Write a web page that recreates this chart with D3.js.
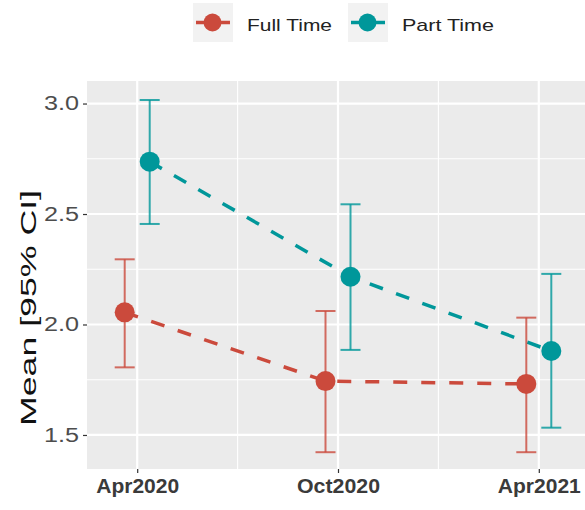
<!DOCTYPE html>
<html>
<head>
<meta charset="utf-8">
<script src="https://cdn.jsdelivr.net/npm/d3@7"></script>
<style>
  html, body { margin: 0; padding: 0; background: #fff; }
  svg { display: block; font-family: "Liberation Sans", Arial, sans-serif; }
</style>
</head>
<body>
<svg id="chart" width="585" height="510"></svg>
<script>
// ---- data ----
const waves = ["Apr2020", "Oct2020", "Apr2021"];
const groups = ["Full Time", "Part Time"];
const fullMean  = [2.055, 1.744, 1.731];
const fullLower = [1.806, 1.422, 1.422];
const fullUpper = [2.295, 2.061, 2.031];
const partMean  = [2.737, 2.216, 1.880];
const partLower = [2.455, 1.885, 1.533];
const partUpper = [3.016, 2.544, 2.229];
const yTicks = [1.5, 2.0, 2.5, 3.0];
const colors = ["#CB4A3C", "#00979A"];

const series = [
  { name: groups[0], mean: fullMean, lo: fullLower, hi: fullUpper, color: colors[0] },
  { name: groups[1], mean: partMean, lo: partLower, hi: partUpper, color: colors[1] }
];

const svg = d3.select("#chart");
const panel = { left: 87, right: 589, top: 81, bottom: 469 };

const x = d3.scalePoint().domain(waves).range([panel.left, panel.right]).padding(0.25);
const dodge = d3.scalePoint().domain(groups).range([-12.5, 12.5]);
const y = d3.scaleLinear().domain([1.346, 3.102]).range([panel.bottom, panel.top]);

// panel background
svg.append("rect")
  .attr("x", panel.left).attr("y", panel.top)
  .attr("width", panel.right - panel.left).attr("height", panel.bottom - panel.top)
  .attr("fill", "#EBEBEB");

// minor grid
const yMinor = yTicks.slice(0, -1).map((v, i) => (v + yTicks[i + 1]) / 2);
const xMinor = waves.slice(0, -1).map((w, i) => (x(w) + x(waves[i + 1])) / 2);
svg.selectAll(".yminor").data(yMinor).join("line")
  .attr("x1", panel.left).attr("x2", panel.right)
  .attr("y1", d => y(d)).attr("y2", d => y(d))
  .attr("stroke", "#fff").attr("stroke-width", 1.1);
svg.selectAll(".xminor").data(xMinor).join("line")
  .attr("y1", panel.top).attr("y2", panel.bottom)
  .attr("x1", d => d).attr("x2", d => d)
  .attr("stroke", "#fff").attr("stroke-width", 1.1);
// major grid
svg.selectAll(".ymajor").data(yTicks).join("line")
  .attr("x1", panel.left).attr("x2", panel.right)
  .attr("y1", d => y(d)).attr("y2", d => y(d))
  .attr("stroke", "#fff").attr("stroke-width", 2.2);
svg.selectAll(".xmajor").data(waves).join("line")
  .attr("y1", panel.top).attr("y2", panel.bottom)
  .attr("x1", d => x(d)).attr("x2", d => x(d))
  .attr("stroke", "#fff").attr("stroke-width", 2.2);

// axes
const yAxis = svg.append("g").attr("transform", `translate(${panel.left},0)`)
  .call(d3.axisLeft(y).tickValues(yTicks).tickFormat(d3.format(".1f")).tickSize(4).tickPadding(4));
yAxis.select(".domain").remove();
yAxis.selectAll(".tick line").attr("stroke", "#333").attr("stroke-width", 1.2);
yAxis.selectAll(".tick text").attr("fill", "#4D4D4D").attr("font-size", 20)
  .attr("font-family", "Liberation Sans, Arial, sans-serif")
  .attr("textLength", 35).attr("lengthAdjust", "spacingAndGlyphs");

const xAxis = svg.append("g").attr("transform", `translate(0,${panel.bottom})`)
  .call(d3.axisBottom(x).tickSize(4).tickPadding(6));
xAxis.select(".domain").remove();
xAxis.selectAll(".tick line").attr("stroke", "#333").attr("stroke-width", 1.2);
xAxis.selectAll(".tick text").attr("fill", "#3A3A3A").attr("font-size", 20)
  .attr("font-weight", "bold").attr("font-family", "Liberation Sans, Arial, sans-serif")
  .attr("textLength", 83).attr("lengthAdjust", "spacingAndGlyphs");

// y title
svg.append("text")
  .attr("transform", "translate(36,308) rotate(-90)")
  .attr("text-anchor", "middle")
  .attr("font-size", 22).attr("fill", "#111")
  .attr("textLength", 236).attr("lengthAdjust", "spacingAndGlyphs")
  .text("Mean [95% CI]");

// lines
const line = d3.line().x((d, i) => x(waves[i]) + d.off).y(d => y(d.v));
series.forEach(s => {
  const off = dodge(s.name);
  svg.append("path")
    .datum(s.mean.map(v => ({ v, off })))
    .attr("d", line)
    .attr("fill", "none").attr("stroke", s.color)
    .attr("stroke-width", 3.5).attr("stroke-dasharray", "14,14");
});

// error bars
series.forEach(s => {
  const off = dodge(s.name);
  const g = svg.append("g").attr("stroke", s.color).attr("stroke-opacity", 0.8).attr("stroke-width", 2);
  waves.forEach((w, i) => {
    const cx = x(w) + off;
    g.append("line").attr("x1", cx).attr("x2", cx).attr("y1", y(s.lo[i])).attr("y2", y(s.hi[i]));
    g.append("line").attr("x1", cx - 10).attr("x2", cx + 10).attr("y1", y(s.lo[i])).attr("y2", y(s.lo[i]));
    g.append("line").attr("x1", cx - 10).attr("x2", cx + 10).attr("y1", y(s.hi[i])).attr("y2", y(s.hi[i]));
  });
});

// points
series.forEach(s => {
  const off = dodge(s.name);
  svg.selectAll(null).data(s.mean).join("circle")
    .attr("cx", (d, i) => x(waves[i]) + off)
    .attr("cy", d => y(d))
    .attr("r", 10).attr("fill", s.color);
});

// legend
const legendX = [193, 348];
const legendTextLen = [85, 92];
const legend = svg.append("g");
series.forEach((s, i) => {
  const g = legend.append("g").attr("transform", `translate(${legendX[i]},3)`);
  g.append("rect").attr("width", 40).attr("height", 39).attr("fill", "#F2F2F2");
  g.append("line").attr("x1", 3).attr("x2", 37).attr("y1", 19.5).attr("y2", 19.5)
    .attr("stroke", s.color).attr("stroke-width", 3.5);
  g.append("circle").attr("cx", 19.5).attr("cy", 19.5).attr("r", 9).attr("fill", s.color);
  g.append("text").attr("x", 54).attr("y", 28)
    .attr("font-size", 17).attr("fill", "#222")
    .attr("textLength", legendTextLen[i]).attr("lengthAdjust", "spacingAndGlyphs")
    .text(s.name);
});
</script>
</body>
</html>
